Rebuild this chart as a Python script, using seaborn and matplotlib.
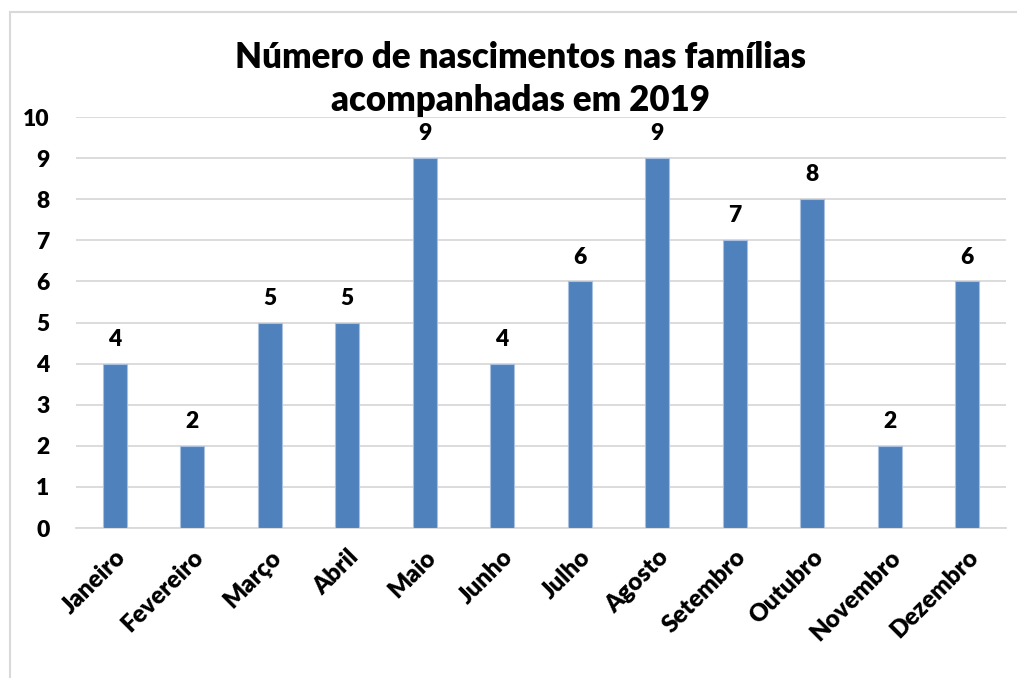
import pandas as pd
import seaborn as sns
import matplotlib.pyplot as plt
from matplotlib.patches import Rectangle

# Data
meses = ['Janeiro', 'Fevereiro', 'Março', 'Abril', 'Maio', 'Junho',
         'Julho', 'Agosto', 'Setembro', 'Outubro', 'Novembro', 'Dezembro']
nascimentos = [4, 2, 5, 5, 9, 4, 6, 9, 7, 8, 2, 6]
titulo = 'Número de nascimentos nas famílias\nacompanhadas em 2019'

df = pd.DataFrame({'mes': meses, 'nascimentos': nascimentos})

sns.set_style('white')
plt.rcParams['font.family'] = ['Lato', 'DejaVu Sans']
plt.rcParams['text.color'] = 'black'

fig = plt.figure(figsize=(10.17, 6.78), dpi=100)
ax = fig.add_axes([0.0747, 0.2212, 0.9143, 0.6062])

sns.barplot(data=df, x='mes', y='nascimentos', color='#4F81BD', width=0.31,
            edgecolor='#A9C0E0', linewidth=0.8, saturation=1, ax=ax, zorder=3)

ax.set_ylim(0, 10)
ax.set_yticks(range(0, 11))
ax.yaxis.grid(True, color='#D9D9D9', linewidth=1.3, zorder=0)
ax.set_axisbelow(True)
for s in ['top', 'right', 'left']:
    ax.spines[s].set_visible(False)
ax.spines['bottom'].set_color('#D9D9D9')
ax.spines['bottom'].set_linewidth(1.3)
ax.set_xlabel('')
ax.set_ylabel('')
ax.tick_params(axis='both', length=0, labelcolor='black')
ax.tick_params(axis='y', pad=19)
plt.setp(ax.get_yticklabels(), fontsize=16.5, fontweight='heavy')
plt.setp(ax.get_xticklabels(), fontsize=17.5, fontweight='heavy', rotation=45,
         ha='right', rotation_mode='anchor')
ax.tick_params(axis='x', pad=13)

for c in ax.containers:
    ax.bar_label(c, padding=10, fontsize=16.5, fontweight='heavy', color='black')

fig.text(0.512, 0.8835, titulo, ha='center', va='center', fontsize=25,
         fontweight='heavy', linespacing=1.35)

# chart frame
fig.patches.append(Rectangle((10 / 1017, -0.2), 1.2, 1.2 - 12 / 678,
                             transform=fig.transFigure, fill=False,
                             edgecolor='#D9D9D9', linewidth=1.5))

fig.savefig('out.png', dpi=100)
